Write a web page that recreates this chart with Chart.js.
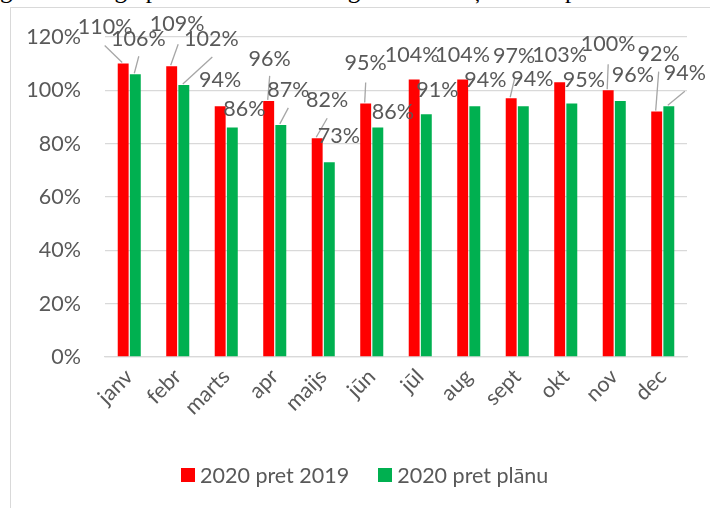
<!DOCTYPE html>
<html>
<head>
<meta charset="utf-8">
<script src="https://cdn.jsdelivr.net/npm/chart.js@4/dist/chart.umd.min.js"></script>
<style>
  html, body { margin: 0; padding: 0; width: 710px; height: 508px; overflow: hidden; background: #fff; }
  #doctext { position: absolute; left: 0px; top: -23px; font-family: "Liberation Serif", serif; font-size: 25px; line-height: 25px; color: #000; white-space: nowrap; }
  #frame { position: absolute; left: 10px; top: 7px; width: 800px; height: 600px; border: 1px solid #d9d9d9; box-sizing: border-box; }
  #wrap { position: absolute; left: 0; top: 0; width: 710px; height: 508px; }
  #legend { position: absolute; left: 181px; top: 462px; display: flex; align-items: center; font-family: Lato, sans-serif; font-size: 21.5px; color: #595959; white-space: nowrap; }
  #legend .item { display: flex; align-items: center; margin-right: 29px; }
  #legend .box { width: 14px; height: 14px; margin-right: 5px; }
</style>
</head>
<body>
<div id="doctext">gada attiecīgo periodu un ar 2020. gada kasu ieņēmumu plānu.</div>
<div id="frame"></div>
<div id="wrap"><canvas id="c" width="710" height="508"></canvas></div>
<div id="legend"></div>
<script>
// ---- data ----
const months = ['janv', 'febr', 'marts', 'apr', 'maijs', 'jūn', 'jūl', 'aug', 'sept', 'okt', 'nov', 'dec'];
const vs2019 = [110, 109, 94, 96, 82, 95, 104, 104, 97, 103, 100, 92];
const vsPlan = [106, 102, 86, 87, 73, 86, 91, 94, 94, 95, 96, 94];
const seriesNames = ['2020 pret 2019', '2020 pret plānu'];
const seriesColors = ['#ff0000', '#00b050'];
const yTickValues = [0, 20, 40, 60, 80, 100, 120];

// ---- label placement (offsets from bar top, leader start offsets) ----
const labelPlacement = [
  [[-18,-37,[-18.5,-18]], [5.5,-42,[6.5,-22]], [0,-26], [1,-42,[1,-25]], [10,-38,[10,-20]], [0,-41,[0,-21]],
   [-2,-25], [0,-25], [3,-42,[3.5,-20]], [0,-27], [0,-46,[0,-26]], [2,-58,[2,-40]]],
  [[3,-35.5,[3.5,-18]], [27.5,-45.5,[28.5,-28]], [12,-19], [7.5,-34.5,[7.5,-17]], [9.5,-26], [15,-15.5],
   [11,-24.5], [10.5,-26], [9,-27], [12,-24], [12.5,-25.5], [16,-33.5,[16,-15]]]
];

const FONT = 'Lato';
const FS = 21.5;
const TXT = '#595959';

const labelPlugin = {
  id: 'barLabels',
  afterDatasetsDraw(chart) {
    const ctx = chart.ctx;
    ctx.save();
    chart.data.datasets.forEach((ds, di) => {
      const meta = chart.getDatasetMeta(di);
      meta.data.forEach((bar, i) => {
        const p = labelPlacement[di][i];
        const lx = bar.x + p[0], ly = bar.y + p[1];
        if (p[2]) {
          ctx.strokeStyle = '#a6a6a6';
          ctx.lineWidth = 1.3;
          ctx.beginPath();
          ctx.moveTo(bar.x + p[2][0], bar.y + p[2][1]);
          ctx.lineTo(bar.x - 1, bar.y - 1);
          ctx.stroke();
        }
        ctx.fillStyle = TXT;
        ctx.font = FS + 'px ' + FONT;
        ctx.textAlign = 'center';
        ctx.textBaseline = 'middle';
        ctx.fillText(Math.round(ds.data[i]) + '%', lx, ly);
      });
    });
    ctx.restore();
  }
};

const chart = new Chart(document.getElementById('c'), {
  type: 'bar',
  data: {
    labels: months,
    datasets: [
      { label: seriesNames[0], data: vs2019, backgroundColor: seriesColors[0], categoryPercentage: 0.5, barPercentage: 0.9 },
      { label: seriesNames[1], data: vsPlan, backgroundColor: seriesColors[1], categoryPercentage: 0.5, barPercentage: 0.9 }
    ]
  },
  options: {
    responsive: false,
    animation: false,
    layout: { padding: { top: 36, right: 23, bottom: 70, left: 0 } },
    plugins: {
      legend: { display: false },
      tooltip: { enabled: false }
    },
    scales: {
      x: {
        grid: { display: false, drawTicks: false },
        border: { display: true, color: '#d9d9d9', width: 1.3 },
        ticks: { color: TXT, font: { family: FONT, size: FS }, minRotation: 45, maxRotation: 45, padding: 7 },
        afterFit(s) { s.height = 81; }
      },
      y: {
        min: 0, max: 120,
        afterBuildTicks(s) { s.ticks = yTickValues.map(v => ({ value: v })); },
        grid: { color: '#d9d9d9', lineWidth: 1.3, drawTicks: false },
        border: { display: false },
        ticks: { color: TXT, font: { family: FONT, size: FS }, padding: 24, callback: v => v + '%' },
        afterFit(s) { s.width = 105; }
      }
    }
  },
  plugins: [labelPlugin]
});

// legend built from the chart's datasets
const lg = document.getElementById('legend');
chart.data.datasets.forEach(ds => {
  const item = document.createElement('div');
  item.className = 'item';
  const box = document.createElement('div');
  box.className = 'box';
  box.style.background = ds.backgroundColor;
  const t = document.createElement('span');
  t.textContent = ds.label;
  item.appendChild(box);
  item.appendChild(t);
  lg.appendChild(item);
});
</script>
</body>
</html>
